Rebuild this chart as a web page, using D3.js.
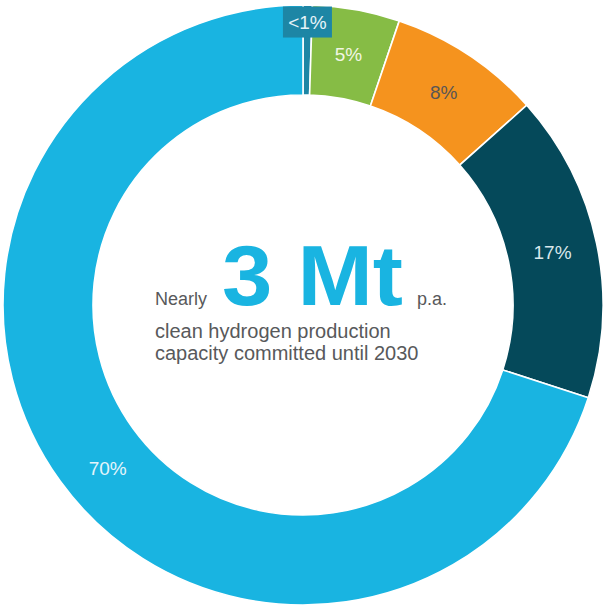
<!DOCTYPE html>
<html>
<head>
<meta charset="utf-8">
<script src="https://cdn.jsdelivr.net/npm/d3@7"></script>
<style>
  html, body { margin: 0; padding: 0; background: #ffffff; }
  svg { display: block; }
  text { font-family: "Liberation Sans", Arial, Helvetica, sans-serif; }
</style>
</head>
<body>
<svg id="chart" width="608" height="606"></svg>
<script>
// Shares of committed clean hydrogen capacity (per cent), clockwise from 12 o'clock
const segmentLabels = ["<1%", "5%", "8%", "17%", "70%"];
const segmentShares = [0.5, 4.7, 8.2, 16.6, 70.0];

// Centre annotation
const headlinePrefix = "Nearly";
const headlineValue = "3 Mt";
const headlineSuffix = "p.a.";
const captionLines = ["clean hydrogen production", "capacity committed until 2030"];

// Styling
const segmentColors = ["#1d86a5", "#86bc45", "#f5931e", "#05495a", "#19b4e1"];
const labelColors = ["#e6f3f8", "#f1f6e4", "#5a5655", "#d9e7eb", "#e4f4fb"];

const svg = d3.select("#chart");
const cx = 303, cy = 305;
const outerR = 300, innerR = 210;

const g = svg.append("g").attr("transform", `translate(${cx},${cy})`);

const pie = d3.pie().sort(null).value(d => d.value).startAngle(0).endAngle(2 * Math.PI);
const rows = segmentLabels.map((label, i) => ({ label, value: segmentShares[i], i }));
const arcs = pie(rows);

const arc = d3.arc().innerRadius(innerR).outerRadius(outerR);

g.selectAll("path.seg")
  .data(arcs)
  .join("path")
  .attr("class", "seg")
  .attr("d", arc)
  .attr("fill", d => segmentColors[d.data.i])
  .attr("stroke", "#ffffff")
  .attr("stroke-width", 1.6);

// Segment labels sit mid-ring; the sliver's label gets a boxed tag near the rim
const labelArc = d3.arc().innerRadius(255).outerRadius(255);
const tagArc = d3.arc().innerRadius(283).outerRadius(283);
const angleNudge = { "70%": -4 * Math.PI / 180 };

arcs.forEach(d => {
  const nudge = angleNudge[d.data.label] || 0;
  const shifted = { startAngle: d.startAngle + nudge, endAngle: d.endAngle + nudge };
  if (d.data.value < 1) {
    const [tx, ty] = tagArc.centroid(shifted);
    g.append("rect")
      .attr("x", tx - 24.5).attr("y", ty - 15.5)
      .attr("width", 49).attr("height", 31)
      .attr("fill", segmentColors[d.data.i]);
    g.append("text")
      .attr("x", tx).attr("y", ty)
      .attr("text-anchor", "middle")
      .attr("dominant-baseline", "central")
      .attr("font-size", 19)
      .attr("fill", labelColors[d.data.i])
      .text(d.data.label);
  } else {
    const [lx, ly] = labelArc.centroid(shifted);
    g.append("text")
      .attr("x", lx).attr("y", ly)
      .attr("text-anchor", "middle")
      .attr("dominant-baseline", "central")
      .attr("font-size", 19)
      .attr("fill", labelColors[d.data.i])
      .text(d.data.label);
  }
});

// Centre headline
const textColor = "#58595b";
svg.append("text")
  .attr("x", 155).attr("y", 305)
  .attr("font-size", 18)
  .attr("fill", textColor)
  .text(headlinePrefix);

svg.append("text")
  .attr("x", 222).attr("y", 305)
  .attr("font-size", 86)
  .attr("font-weight", "bold")
  .attr("fill", "#19b4e1")
  .attr("textLength", 181)
  .attr("lengthAdjust", "spacingAndGlyphs")
  .text(headlineValue);

svg.append("text")
  .attr("x", 417).attr("y", 305)
  .attr("font-size", 18)
  .attr("fill", textColor)
  .text(headlineSuffix);

svg.selectAll("text.caption")
  .data(captionLines)
  .join("text")
  .attr("class", "caption")
  .attr("x", 155)
  .attr("y", (d, i) => 338 + i * 22)
  .attr("font-size", 20)
  .attr("fill", textColor)
  .text(d => d);
</script>
</body>
</html>
